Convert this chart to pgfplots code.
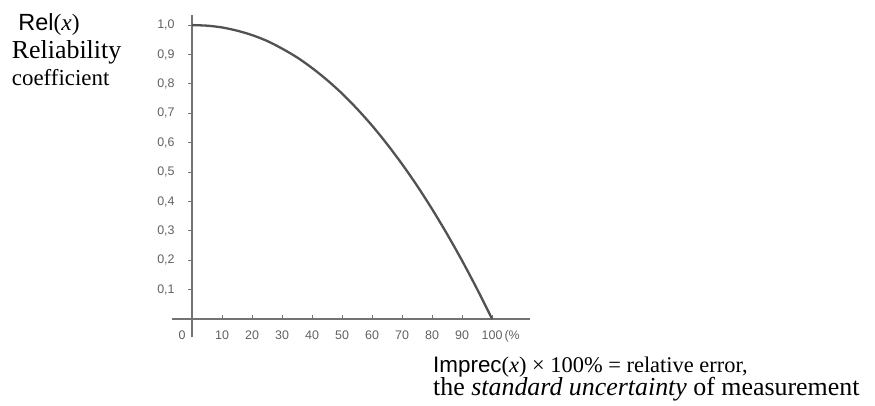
\documentclass[border=0pt]{standalone}
\usepackage{fontspec}
\setmainfont{Liberation Serif}
\newfontfamily\arial{Liberation Sans}
\usepackage{pgfplots}
\pgfplotsset{compat=1.18}
\begin{document}
\begin{tikzpicture}[x=1bp,y=1bp]
\useasboundingbox (-172,-68) rectangle (703,337);
\begin{axis}[
  at={(0,0)}, anchor=south west,
  scale only axis, width=358.2bp, height=321.9bp,
  xmin=-6.7, xmax=112.7, ymin=-0.061, ymax=1.034,
  axis lines=middle,
  axis line style={-, draw=black!55, line width=1.3bp},
  hide obscured x ticks=false, hide obscured y ticks=false,
  tick align=center, major tick length=4bp,
  every tick/.style={draw=black!55, line width=1bp},
  x tick style={yshift=2bp},
  y tick style={xshift=-2bp},
  xtick={10,20,30,40,50,60,70,80,90,100},
  xticklabels={10,20,30,40,50,60,70,80,90,{100\rlap{\,(\%}}},
  ytick={0.1,0.2,0.3,0.4,0.5,0.6,0.7,0.8,0.9,1.0},
  yticklabels={{0,1},{0,2},{0,3},{0,4},{0,5},{0,6},{0,7},{0,8},{0,9},{1,0}},
  extra x ticks={0}, extra x tick labels={0},
  extra x tick style={major tick length=0bp, xticklabel style={xshift=-10bp, yshift=-2bp}},
  ticklabel style={font=\arial\fontsize{12.5}{13}\selectfont, text=black!62},
  /pgf/number format/assume math mode=true,
  xticklabel style={yshift=-6bp},
  yticklabel style={xshift=-12bp},
  clip=false,
]
\addplot[smooth, draw=black!68, line width=2.3bp] coordinates {
  (0,1.0) (5,0.998) (10,0.992) (15,0.981) (20,0.966) (25,0.946)
  (30,0.920) (35,0.890) (40,0.854) (45,0.813) (50,0.767) (55,0.715)
  (60,0.658) (65,0.595) (70,0.527) (75,0.4535) (80,0.374) (85,0.289)
  (90,0.1985) (95,0.102) (100,0.0)
};
\end{axis}
\node[anchor=base west, inner sep=0pt, font=\fontsize{23.5}{26}\selectfont] at (-153.7,306.3) {{\arial Rel}(\textit{x})};
\node[anchor=base west, inner sep=0pt, font=\fontsize{26}{28}\selectfont] at (-160.3,278.7) {Reliability};
\node[anchor=base west, inner sep=0pt, font=\fontsize{23}{26}\selectfont] at (-160.3,252) {coefficient};
\node[anchor=base west, inner sep=0pt, font=\fontsize{22.5}{26}\selectfont] at (261,-35) {{\arial Imprec}(\textit{x}) × 100\% = relative error,};
\node[anchor=base west, inner sep=0pt, font=\fontsize{26}{28}\selectfont] at (261,-58) {the \textit{standard uncertainty} of measurement};
\end{tikzpicture}
\end{document}
